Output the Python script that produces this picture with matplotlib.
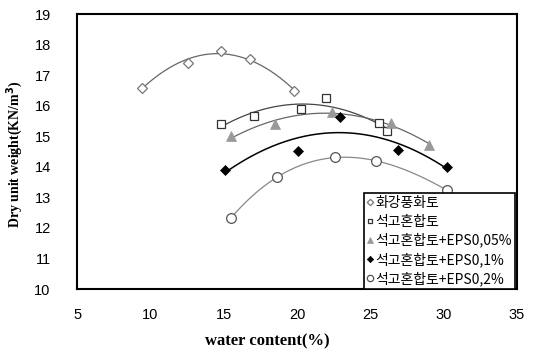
import numpy as np
import matplotlib
matplotlib.use("Agg")
import matplotlib.pyplot as plt

plt.rcParams['font.family'] = ['Liberation Sans', 'DejaVu Sans']

# Data
labels = ["화강풍화토", "석고혼합토", "석고혼합토+EPS0,05%", "석고혼합토+EPS0,1%", "석고혼합토+EPS0,2%"]

x_granite = [9.4, 12.6, 14.8, 16.8, 19.8]
y_granite = [16.59, 17.39, 17.80, 17.52, 16.49]

x_gyp = [14.8, 17.1, 20.25, 22.0, 25.6, 26.15]
y_gyp = [15.39, 15.67, 15.89, 16.25, 15.42, 15.17]

x_eps005 = [15.5, 18.5, 22.4, 26.4, 29.0]
y_eps005 = [15.00, 15.39, 15.79, 15.44, 14.70]

x_eps01 = [15.1, 20.1, 22.9, 26.9, 30.2]
y_eps01 = [13.89, 14.53, 15.64, 14.55, 13.98]

x_eps02 = [15.5, 18.65, 22.6, 25.4, 30.2]
y_eps02 = [12.33, 13.66, 14.31, 14.19, 13.24]

xticks = [5, 10, 15, 20, 25, 30, 35]
yticks = [10, 11, 12, 13, 14, 15, 16, 17, 18, 19]

fig = plt.figure(figsize=(5.36, 3.51), dpi=100)
ax = fig.add_axes([0.1437, 0.1766, 0.8209, 0.7834])

series = [
    (x_granite, y_granite, dict(marker='D', ms=5, mfc='white', mec='#777777', mew=0.9), '#666666', 0.9, 2),
    (x_gyp, y_gyp, dict(marker='s', ms=5.5, mfc='white', mec='#333333', mew=0.9), '#444444', 0.9, 2),
    (x_eps005, y_eps005, dict(marker='^', ms=7, mfc='#999999', mec='#999999', mew=0.5), '#666666', 0.9, 2),
    (x_eps01, y_eps01, dict(marker='D', ms=5, mfc='black', mec='black', mew=0.5), 'black', 1.1, 2),
    (x_eps02, y_eps02, dict(marker='o', ms=7, mfc='white', mec='#555555', mew=0.9), '#888888', 0.9, 3),
]

handles = []
for (xs, ys, mk, lc, lw, deg), lab in zip(series, labels):
    xs = np.array(xs); ys = np.array(ys)
    coef = np.polyfit(xs, ys, deg)
    xx = np.linspace(xs.min(), xs.max(), 200)
    ax.plot(xx, np.polyval(coef, xx), color=lc, lw=lw, zorder=2)
    h, = ax.plot(xs, ys, ls='none', zorder=3, label=lab, **mk)
    handles.append(h)

ax.set_xlim(5, 35)
ax.set_ylim(10, 19)
ax.set_xticks(xticks)
ax.set_yticks(yticks)
ax.tick_params(length=0, labelsize=10.5, pad=14)
ax.tick_params(axis='y', pad=19)
for s in ax.spines.values():
    s.set_linewidth(1.5)

ax.set_xlabel("water content(%)", family='Liberation Serif', fontweight='bold', fontsize=12)
ax.xaxis.set_label_coords(0.432, -0.161)
ax.set_ylabel("Dry unit weight(KN/m$^\\mathbf{3}$)", family='Liberation Serif', fontweight='bold', fontsize=10)
ax.yaxis.set_label_coords(-0.118, 0.49)

leg = ax.legend(handles=handles, loc='lower right', bbox_to_anchor=(0.995, 0.0), borderaxespad=0,
                prop={'family': ['Noto Sans CJK KR', 'DejaVu Sans'], 'size': 10},
                markerscale=0.65, handlelength=0.45, handletextpad=0.15, labelspacing=0.31,
                borderpad=0.22, fancybox=False, framealpha=1, edgecolor='black', shadow=False)
leg.get_frame().set_linewidth(1.2)

fig.savefig("out.png", dpi=100)
